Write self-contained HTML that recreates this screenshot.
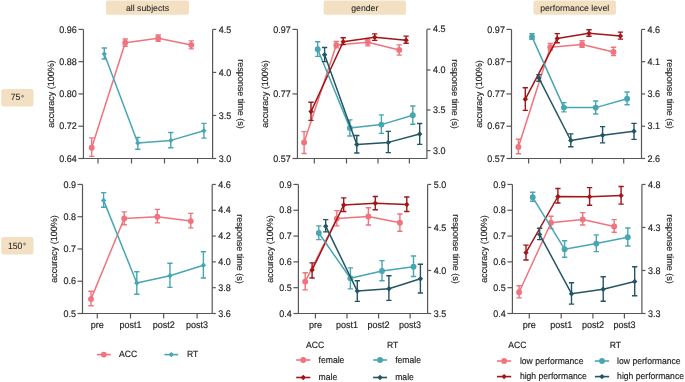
<!DOCTYPE html><html><head><meta charset="utf-8"><style>
html,body{margin:0;padding:0;background:#fff;width:685px;height:382px;overflow:hidden}
svg{display:block;will-change:transform}
text{font-family:"Liberation Sans", sans-serif;fill:#222222;text-rendering:geometricPrecision}text{stroke:#222222;stroke-width:0.15px}
</style></head><body>
<svg width="685" height="382" viewBox="0 0 685 382">
<rect x="106" y="0.5" width="83" height="14.2" rx="2" fill="#F3E0C3"/>
<text transform="matrix(1 0 0 1.0 147.5 10.9)" font-size="8.7" text-anchor="middle" style="stroke-width:0.05px">all subjects</text>
<rect x="323.6" y="0.5" width="82.3" height="14.2" rx="2" fill="#F3E0C3"/>
<text transform="matrix(1 0 0 1.0 364.75 10.9)" font-size="8.7" text-anchor="middle" style="stroke-width:0.05px">gender</text>
<rect x="533.5" y="0.5" width="82.4" height="14.2" rx="2" fill="#F3E0C3"/>
<text transform="matrix(1 0 0 1.0 574.7 10.9)" font-size="8.7" text-anchor="middle" style="stroke-width:0.05px">performance level</text>
<rect x="1.2" y="89" width="32.3" height="17.5" rx="2.5" fill="#F3E0C3"/>
<text transform="matrix(1 0 0 1.06 20.35 100.4)" font-size="8.7" text-anchor="end" style="stroke-width:0.05px">75</text>
<circle cx="22.55" cy="96.3" r="0.95" fill="none" stroke="#555" stroke-width="0.75"/>
<rect x="1.2" y="237" width="32.3" height="17.4" rx="2.5" fill="#F3E0C3"/>
<text transform="matrix(1 0 0 1.06 22.45 248.6)" font-size="8.7" text-anchor="end" style="stroke-width:0.05px">150</text>
<circle cx="24.55" cy="244" r="0.95" fill="none" stroke="#555" stroke-width="0.75"/>
<text transform="matrix(1 0 0 1.06 76.85 32.6)" font-size="9" text-anchor="end">0.96</text>
<text transform="matrix(1 0 0 1.06 76.85 64.88)" font-size="9" text-anchor="end">0.88</text>
<text transform="matrix(1 0 0 1.06 76.85 97.15)" font-size="9" text-anchor="end">0.80</text>
<text transform="matrix(1 0 0 1.06 76.85 129.42)" font-size="9" text-anchor="end">0.72</text>
<text transform="matrix(1 0 0 1.06 76.85 161.7)" font-size="9" text-anchor="end">0.64</text>
<text transform="matrix(1 0 0 1.06 218.7 32.6)" font-size="9">4.5</text>
<text transform="matrix(1 0 0 1.06 218.7 75.63)" font-size="9">4.0</text>
<text transform="matrix(1 0 0 1.06 218.7 118.67)" font-size="9">3.5</text>
<text transform="matrix(1 0 0 1.06 218.7 161.7)" font-size="9">3.0</text>
<path d="M83.45 29.4V158.5H212.6V29.4" fill="none" stroke="#575757" stroke-width="1.2"/><path d="M78.45 29.4H83.45" stroke="#575757" stroke-width="1.2"/><path d="M78.45 61.67H83.45" stroke="#575757" stroke-width="1.2"/><path d="M78.45 93.95H83.45" stroke="#575757" stroke-width="1.2"/><path d="M78.45 126.22H83.45" stroke="#575757" stroke-width="1.2"/><path d="M78.45 158.5H83.45" stroke="#575757" stroke-width="1.2"/><path d="M212.6 29.4H216.2" stroke="#575757" stroke-width="1.2"/><path d="M212.6 72.43H216.2" stroke="#575757" stroke-width="1.2"/><path d="M212.6 115.47H216.2" stroke="#575757" stroke-width="1.2"/><path d="M212.6 158.5H216.2" stroke="#575757" stroke-width="1.2"/><path d="M98 158.5V163.5" stroke="#575757" stroke-width="1.2"/><path d="M131.5 158.5V163.5" stroke="#575757" stroke-width="1.2"/><path d="M164.5 158.5V163.5" stroke="#575757" stroke-width="1.2"/><path d="M197.6 158.5V163.5" stroke="#575757" stroke-width="1.2"/>
<text transform="translate(53.95 93.95) rotate(-90)" font-size="9" text-anchor="middle">accuracy (100%)</text>
<text transform="translate(237.6 93.95) rotate(90)" font-size="9" text-anchor="middle">response time (s)</text>
<path d="M91.7 147.8L125.2 42.8L158.2 38.2L191.3 45" fill="none" stroke="#F0737D" stroke-width="1.5" stroke-linejoin="round"/><path d="M91.7 137.9V156.4M89.05 137.9H94.35M89.05 156.4H94.35" fill="none" stroke="#F0737D" stroke-width="1.4"/><circle cx="91.7" cy="147.8" r="2.95" fill="#F0737D"/><path d="M125.2 39V46.3M122.55 39H127.85M122.55 46.3H127.85" fill="none" stroke="#F0737D" stroke-width="1.4"/><circle cx="125.2" cy="42.8" r="2.95" fill="#F0737D"/><path d="M158.2 35V41.2M155.55 35H160.85M155.55 41.2H160.85" fill="none" stroke="#F0737D" stroke-width="1.4"/><circle cx="158.2" cy="38.2" r="2.95" fill="#F0737D"/><path d="M191.3 40.9V48.9M188.65 40.9H193.95M188.65 48.9H193.95" fill="none" stroke="#F0737D" stroke-width="1.4"/><circle cx="191.3" cy="45" r="2.95" fill="#F0737D"/>
<path d="M104.3 53.9L137.8 143.1L170.8 140.4L203.9 130.8" fill="none" stroke="#48A6B2" stroke-width="1.5" stroke-linejoin="round"/><path d="M104.3 48V59M101.65 48H106.95M101.65 59H106.95" fill="none" stroke="#48A6B2" stroke-width="1.4"/><path d="M104.3 51.2L107 53.9L104.3 56.6L101.6 53.9Z" fill="#48A6B2"/><path d="M137.8 137.4V149.3M135.15 137.4H140.45M135.15 149.3H140.45" fill="none" stroke="#48A6B2" stroke-width="1.4"/><path d="M137.8 140.4L140.5 143.1L137.8 145.8L135.1 143.1Z" fill="#48A6B2"/><path d="M170.8 132.5V147.7M168.15 132.5H173.45M168.15 147.7H173.45" fill="none" stroke="#48A6B2" stroke-width="1.4"/><path d="M170.8 137.7L173.5 140.4L170.8 143.1L168.1 140.4Z" fill="#48A6B2"/><path d="M203.9 123.4V138.1M201.25 123.4H206.55M201.25 138.1H206.55" fill="none" stroke="#48A6B2" stroke-width="1.4"/><path d="M203.9 128.1L206.6 130.8L203.9 133.5L201.2 130.8Z" fill="#48A6B2"/>
<text transform="matrix(1 0 0 1.06 290.85 32.6)" font-size="9" text-anchor="end">0.97</text>
<text transform="matrix(1 0 0 1.06 290.85 97.15)" font-size="9" text-anchor="end">0.77</text>
<text transform="matrix(1 0 0 1.06 290.85 161.7)" font-size="9" text-anchor="end">0.57</text>
<text transform="matrix(1 0 0 1.06 433 32.4)" font-size="9">4.5</text>
<text transform="matrix(1 0 0 1.06 433 73.2)" font-size="9">4.0</text>
<text transform="matrix(1 0 0 1.06 433 113.2)" font-size="9">3.5</text>
<text transform="matrix(1 0 0 1.06 433 153.8)" font-size="9">3.0</text>
<path d="M297.45 29.4V158.5H426.9V29.4" fill="none" stroke="#575757" stroke-width="1.2"/><path d="M292.45 29.4H297.45" stroke="#575757" stroke-width="1.2"/><path d="M292.45 93.95H297.45" stroke="#575757" stroke-width="1.2"/><path d="M292.45 158.5H297.45" stroke="#575757" stroke-width="1.2"/><path d="M426.9 29.2H430.5" stroke="#575757" stroke-width="1.2"/><path d="M426.9 70H430.5" stroke="#575757" stroke-width="1.2"/><path d="M426.9 110H430.5" stroke="#575757" stroke-width="1.2"/><path d="M426.9 150.6H430.5" stroke="#575757" stroke-width="1.2"/><path d="M314.3 158.5V163.5" stroke="#575757" stroke-width="1.2"/><path d="M346.5 158.5V163.5" stroke="#575757" stroke-width="1.2"/><path d="M378 158.5V163.5" stroke="#575757" stroke-width="1.2"/><path d="M409.4 158.5V163.5" stroke="#575757" stroke-width="1.2"/>
<text transform="translate(267.95 93.95) rotate(-90)" font-size="9" text-anchor="middle">accuracy (100%)</text>
<text transform="translate(451.9 93.95) rotate(90)" font-size="9" text-anchor="middle">response time (s)</text>
<path d="M304.1 142.5L336.3 44.9L367.8 42.3L399.2 49.9" fill="none" stroke="#F0737D" stroke-width="1.5" stroke-linejoin="round"/><path d="M304.1 131.6V153.5M301.45 131.6H306.75M301.45 153.5H306.75" fill="none" stroke="#F0737D" stroke-width="1.4"/><circle cx="304.1" cy="142.5" r="2.95" fill="#F0737D"/><path d="M336.3 41.4V47.9M333.65 41.4H338.95M333.65 47.9H338.95" fill="none" stroke="#F0737D" stroke-width="1.4"/><circle cx="336.3" cy="44.9" r="2.95" fill="#F0737D"/><path d="M367.8 39.7V45.9M365.15 39.7H370.45M365.15 45.9H370.45" fill="none" stroke="#F0737D" stroke-width="1.4"/><circle cx="367.8" cy="42.3" r="2.95" fill="#F0737D"/><path d="M399.2 44.9V55.1M396.55 44.9H401.85M396.55 55.1H401.85" fill="none" stroke="#F0737D" stroke-width="1.4"/><circle cx="399.2" cy="49.9" r="2.95" fill="#F0737D"/>
<path d="M311 111.6L343.2 41.7L374.7 37.3L406.1 40.3" fill="none" stroke="#A31516" stroke-width="1.5" stroke-linejoin="round"/><path d="M311 102.2V120.4M308.35 102.2H313.65M308.35 120.4H313.65" fill="none" stroke="#A31516" stroke-width="1.4"/><path d="M311 108.9L313.7 111.6L311 114.3L308.3 111.6Z" fill="#A31516"/><path d="M343.2 37.8V44.6M340.55 37.8H345.85M340.55 44.6H345.85" fill="none" stroke="#A31516" stroke-width="1.4"/><path d="M343.2 39L345.9 41.7L343.2 44.4L340.5 41.7Z" fill="#A31516"/><path d="M374.7 33.9V40.4M372.05 33.9H377.35M372.05 40.4H377.35" fill="none" stroke="#A31516" stroke-width="1.4"/><path d="M374.7 34.6L377.4 37.3L374.7 40L372 37.3Z" fill="#A31516"/><path d="M406.1 36.1V43.3M403.45 36.1H408.75M403.45 43.3H408.75" fill="none" stroke="#A31516" stroke-width="1.4"/><path d="M406.1 37.6L408.8 40.3L406.1 43L403.4 40.3Z" fill="#A31516"/>
<path d="M317.7 49.2L349.9 127.9L381.4 124.6L412.8 115.2" fill="none" stroke="#48A6B2" stroke-width="1.5" stroke-linejoin="round"/><path d="M317.7 41.7V56.4M315.05 41.7H320.35M315.05 56.4H320.35" fill="none" stroke="#48A6B2" stroke-width="1.4"/><circle cx="317.7" cy="49.2" r="2.95" fill="#48A6B2"/><path d="M349.9 119.9V136M347.25 119.9H352.55M347.25 136H352.55" fill="none" stroke="#48A6B2" stroke-width="1.4"/><circle cx="349.9" cy="127.9" r="2.95" fill="#48A6B2"/><path d="M381.4 114.9V133.4M378.75 114.9H384.05M378.75 133.4H384.05" fill="none" stroke="#48A6B2" stroke-width="1.4"/><circle cx="381.4" cy="124.6" r="2.95" fill="#48A6B2"/><path d="M412.8 106V124.3M410.15 106H415.45M410.15 124.3H415.45" fill="none" stroke="#48A6B2" stroke-width="1.4"/><circle cx="412.8" cy="115.2" r="2.95" fill="#48A6B2"/>
<path d="M324.6 54.7L356.8 144.6L388.3 142.4L419.7 134" fill="none" stroke="#235563" stroke-width="1.5" stroke-linejoin="round"/><path d="M324.6 47.5V61.6M321.95 47.5H327.25M321.95 61.6H327.25" fill="none" stroke="#235563" stroke-width="1.4"/><path d="M324.6 52L327.3 54.7L324.6 57.4L321.9 54.7Z" fill="#235563"/><path d="M356.8 135.5V153M354.15 135.5H359.45M354.15 153H359.45" fill="none" stroke="#235563" stroke-width="1.4"/><path d="M356.8 141.9L359.5 144.6L356.8 147.3L354.1 144.6Z" fill="#235563"/><path d="M388.3 131.4V152.6M385.65 131.4H390.95M385.65 152.6H390.95" fill="none" stroke="#235563" stroke-width="1.4"/><path d="M388.3 139.7L391 142.4L388.3 145.1L385.6 142.4Z" fill="#235563"/><path d="M419.7 123.5V144.4M417.05 123.5H422.35M417.05 144.4H422.35" fill="none" stroke="#235563" stroke-width="1.4"/><path d="M419.7 131.3L422.4 134L419.7 136.7L417 134Z" fill="#235563"/>
<text transform="matrix(1 0 0 1.06 504.9 32.6)" font-size="9" text-anchor="end">0.97</text>
<text transform="matrix(1 0 0 1.06 504.9 64.88)" font-size="9" text-anchor="end">0.87</text>
<text transform="matrix(1 0 0 1.06 504.9 97.15)" font-size="9" text-anchor="end">0.77</text>
<text transform="matrix(1 0 0 1.06 504.9 129.42)" font-size="9" text-anchor="end">0.67</text>
<text transform="matrix(1 0 0 1.06 504.9 161.7)" font-size="9" text-anchor="end">0.57</text>
<text transform="matrix(1 0 0 1.06 647.6 32.6)" font-size="9">4.6</text>
<text transform="matrix(1 0 0 1.06 647.6 64.88)" font-size="9">4.1</text>
<text transform="matrix(1 0 0 1.06 647.6 97.15)" font-size="9">3.6</text>
<text transform="matrix(1 0 0 1.06 647.6 129.42)" font-size="9">3.1</text>
<text transform="matrix(1 0 0 1.06 647.6 161.7)" font-size="9">2.6</text>
<path d="M511.5 29.4V158.5H641.5V29.4" fill="none" stroke="#575757" stroke-width="1.2"/><path d="M506.5 29.4H511.5" stroke="#575757" stroke-width="1.2"/><path d="M506.5 61.67H511.5" stroke="#575757" stroke-width="1.2"/><path d="M506.5 93.95H511.5" stroke="#575757" stroke-width="1.2"/><path d="M506.5 126.22H511.5" stroke="#575757" stroke-width="1.2"/><path d="M506.5 158.5H511.5" stroke="#575757" stroke-width="1.2"/><path d="M641.5 29.4H645.1" stroke="#575757" stroke-width="1.2"/><path d="M641.5 61.67H645.1" stroke="#575757" stroke-width="1.2"/><path d="M641.5 93.95H645.1" stroke="#575757" stroke-width="1.2"/><path d="M641.5 126.22H645.1" stroke="#575757" stroke-width="1.2"/><path d="M641.5 158.5H645.1" stroke="#575757" stroke-width="1.2"/><path d="M528.6 158.5V163.5" stroke="#575757" stroke-width="1.2"/><path d="M560.5 158.5V163.5" stroke="#575757" stroke-width="1.2"/><path d="M592.3 158.5V163.5" stroke="#575757" stroke-width="1.2"/><path d="M623.7 158.5V163.5" stroke="#575757" stroke-width="1.2"/>
<text transform="translate(482 93.95) rotate(-90)" font-size="9" text-anchor="middle">accuracy (100%)</text>
<text transform="translate(666.5 93.95) rotate(90)" font-size="9" text-anchor="middle">response time (s)</text>
<path d="M518.4 147L550.3 47.3L582.1 44.5L613.5 52" fill="none" stroke="#F0737D" stroke-width="1.5" stroke-linejoin="round"/><path d="M518.4 139.3V153.8M515.75 139.3H521.05M515.75 153.8H521.05" fill="none" stroke="#F0737D" stroke-width="1.4"/><circle cx="518.4" cy="147" r="2.95" fill="#F0737D"/><path d="M550.3 43.5V50.1M547.65 43.5H552.95M547.65 50.1H552.95" fill="none" stroke="#F0737D" stroke-width="1.4"/><circle cx="550.3" cy="47.3" r="2.95" fill="#F0737D"/><path d="M582.1 40.7V47.3M579.45 40.7H584.75M579.45 47.3H584.75" fill="none" stroke="#F0737D" stroke-width="1.4"/><circle cx="582.1" cy="44.5" r="2.95" fill="#F0737D"/><path d="M613.5 47.3V55.6M610.85 47.3H616.15M610.85 55.6H616.15" fill="none" stroke="#F0737D" stroke-width="1.4"/><circle cx="613.5" cy="52" r="2.95" fill="#F0737D"/>
<path d="M525.3 99.2L557.2 38.6L589 33.2L620.4 36" fill="none" stroke="#A31516" stroke-width="1.5" stroke-linejoin="round"/><path d="M525.3 87.8V110.4M522.65 87.8H527.95M522.65 110.4H527.95" fill="none" stroke="#A31516" stroke-width="1.4"/><path d="M525.3 96.5L528 99.2L525.3 101.9L522.6 99.2Z" fill="#A31516"/><path d="M557.2 33.6V42.7M554.55 33.6H559.85M554.55 42.7H559.85" fill="none" stroke="#A31516" stroke-width="1.4"/><path d="M557.2 35.9L559.9 38.6L557.2 41.3L554.5 38.6Z" fill="#A31516"/><path d="M589 29.7V36.3M586.35 29.7H591.65M586.35 36.3H591.65" fill="none" stroke="#A31516" stroke-width="1.4"/><path d="M589 30.5L591.7 33.2L589 35.9L586.3 33.2Z" fill="#A31516"/><path d="M620.4 32.1V39.1M617.75 32.1H623.05M617.75 39.1H623.05" fill="none" stroke="#A31516" stroke-width="1.4"/><path d="M620.4 33.3L623.1 36L620.4 38.7L617.7 36Z" fill="#A31516"/>
<path d="M532 36.9L563.9 107.6L595.7 107.6L627.1 98.8" fill="none" stroke="#48A6B2" stroke-width="1.5" stroke-linejoin="round"/><path d="M532 33.8V39.3M529.35 33.8H534.65M529.35 39.3H534.65" fill="none" stroke="#48A6B2" stroke-width="1.4"/><circle cx="532" cy="36.9" r="2.95" fill="#48A6B2"/><path d="M563.9 102.6V111.9M561.25 102.6H566.55M561.25 111.9H566.55" fill="none" stroke="#48A6B2" stroke-width="1.4"/><circle cx="563.9" cy="107.6" r="2.95" fill="#48A6B2"/><path d="M595.7 101V114M593.05 101H598.35M593.05 114H598.35" fill="none" stroke="#48A6B2" stroke-width="1.4"/><circle cx="595.7" cy="107.6" r="2.95" fill="#48A6B2"/><path d="M627.1 92V104.7M624.45 92H629.75M624.45 104.7H629.75" fill="none" stroke="#48A6B2" stroke-width="1.4"/><circle cx="627.1" cy="98.8" r="2.95" fill="#48A6B2"/>
<path d="M538.9 78.1L570.8 140.5L602.6 135.3L634 131.3" fill="none" stroke="#235563" stroke-width="1.5" stroke-linejoin="round"/><path d="M538.9 74.6V81.2M536.25 74.6H541.55M536.25 81.2H541.55" fill="none" stroke="#235563" stroke-width="1.4"/><path d="M538.9 75.4L541.6 78.1L538.9 80.8L536.2 78.1Z" fill="#235563"/><path d="M570.8 133.9V146.7M568.15 133.9H573.45M568.15 146.7H573.45" fill="none" stroke="#235563" stroke-width="1.4"/><path d="M570.8 137.8L573.5 140.5L570.8 143.2L568.1 140.5Z" fill="#235563"/><path d="M602.6 126.6V142.9M599.95 126.6H605.25M599.95 142.9H605.25" fill="none" stroke="#235563" stroke-width="1.4"/><path d="M602.6 132.6L605.3 135.3L602.6 138L599.9 135.3Z" fill="#235563"/><path d="M634 123.4V139.4M631.35 123.4H636.65M631.35 139.4H636.65" fill="none" stroke="#235563" stroke-width="1.4"/><path d="M634 128.6L636.7 131.3L634 134L631.3 131.3Z" fill="#235563"/>
<text transform="matrix(1 0 0 1.06 75.9 187.65)" font-size="9" text-anchor="end">0.9</text>
<text transform="matrix(1 0 0 1.06 75.9 219.91)" font-size="9" text-anchor="end">0.8</text>
<text transform="matrix(1 0 0 1.06 75.9 252.17)" font-size="9" text-anchor="end">0.7</text>
<text transform="matrix(1 0 0 1.06 75.9 284.44)" font-size="9" text-anchor="end">0.6</text>
<text transform="matrix(1 0 0 1.06 75.9 316.7)" font-size="9" text-anchor="end">0.5</text>
<text transform="matrix(1 0 0 1.06 218.3 187.65)" font-size="9">4.6</text>
<text transform="matrix(1 0 0 1.06 218.3 213.46)" font-size="9">4.4</text>
<text transform="matrix(1 0 0 1.06 218.3 239.27)" font-size="9">4.2</text>
<text transform="matrix(1 0 0 1.06 218.3 265.08)" font-size="9">4.0</text>
<text transform="matrix(1 0 0 1.06 218.3 290.89)" font-size="9">3.8</text>
<text transform="matrix(1 0 0 1.06 218.3 316.7)" font-size="9">3.6</text>
<path d="M82.5 184.45V313.5H212.2V184.45" fill="none" stroke="#575757" stroke-width="1.2"/><path d="M77.5 184.45H82.5" stroke="#575757" stroke-width="1.2"/><path d="M77.5 216.71H82.5" stroke="#575757" stroke-width="1.2"/><path d="M77.5 248.97H82.5" stroke="#575757" stroke-width="1.2"/><path d="M77.5 281.24H82.5" stroke="#575757" stroke-width="1.2"/><path d="M77.5 313.5H82.5" stroke="#575757" stroke-width="1.2"/><path d="M212.2 184.45H215.8" stroke="#575757" stroke-width="1.2"/><path d="M212.2 210.26H215.8" stroke="#575757" stroke-width="1.2"/><path d="M212.2 236.07H215.8" stroke="#575757" stroke-width="1.2"/><path d="M212.2 261.88H215.8" stroke="#575757" stroke-width="1.2"/><path d="M212.2 287.69H215.8" stroke="#575757" stroke-width="1.2"/><path d="M212.2 313.5H215.8" stroke="#575757" stroke-width="1.2"/><path d="M97.3 313.5V318.5" stroke="#575757" stroke-width="1.2"/><path d="M130.5 313.5V318.5" stroke="#575757" stroke-width="1.2"/><path d="M163.65 313.5V318.5" stroke="#575757" stroke-width="1.2"/><path d="M197.1 313.5V318.5" stroke="#575757" stroke-width="1.2"/>
<text transform="translate(57.2 248.97) rotate(-90)" font-size="9" text-anchor="middle">accuracy (100%)</text>
<text transform="translate(237.2 248.97) rotate(90)" font-size="9" text-anchor="middle">response time (s)</text>
<text transform="matrix(1 0 0 1.06 97.3 328.3)" font-size="9" text-anchor="middle">pre</text>
<text transform="matrix(1 0 0 1.06 130.5 328.3)" font-size="9" text-anchor="middle">post1</text>
<text transform="matrix(1 0 0 1.06 163.65 328.3)" font-size="9" text-anchor="middle">post2</text>
<text transform="matrix(1 0 0 1.06 197.1 328.3)" font-size="9" text-anchor="middle">post3</text>
<path d="M91 299.1L124.2 218.5L157.35 216.7L190.8 221.1" fill="none" stroke="#F0737D" stroke-width="1.5" stroke-linejoin="round"/><path d="M91 291.3V305.8M88.35 291.3H93.65M88.35 305.8H93.65" fill="none" stroke="#F0737D" stroke-width="1.4"/><circle cx="91" cy="299.1" r="2.95" fill="#F0737D"/><path d="M124.2 211.9V224.7M121.55 211.9H126.85M121.55 224.7H126.85" fill="none" stroke="#F0737D" stroke-width="1.4"/><circle cx="124.2" cy="218.5" r="2.95" fill="#F0737D"/><path d="M157.35 209.4V222.9M154.7 209.4H160M154.7 222.9H160" fill="none" stroke="#F0737D" stroke-width="1.4"/><circle cx="157.35" cy="216.7" r="2.95" fill="#F0737D"/><path d="M190.8 213.4V227.9M188.15 213.4H193.45M188.15 227.9H193.45" fill="none" stroke="#F0737D" stroke-width="1.4"/><circle cx="190.8" cy="221.1" r="2.95" fill="#F0737D"/>
<path d="M103.6 200.4L136.8 283L169.95 275.8L203.4 265.3" fill="none" stroke="#48A6B2" stroke-width="1.5" stroke-linejoin="round"/><path d="M103.6 192.6V207.2M100.95 192.6H106.25M100.95 207.2H106.25" fill="none" stroke="#48A6B2" stroke-width="1.4"/><path d="M103.6 197.7L106.3 200.4L103.6 203.1L100.9 200.4Z" fill="#48A6B2"/><path d="M136.8 271.8V294.2M134.15 271.8H139.45M134.15 294.2H139.45" fill="none" stroke="#48A6B2" stroke-width="1.4"/><path d="M136.8 280.3L139.5 283L136.8 285.7L134.1 283Z" fill="#48A6B2"/><path d="M169.95 263.3V287.4M167.3 263.3H172.6M167.3 287.4H172.6" fill="none" stroke="#48A6B2" stroke-width="1.4"/><path d="M169.95 273.1L172.65 275.8L169.95 278.5L167.25 275.8Z" fill="#48A6B2"/><path d="M203.4 251.7V278M200.75 251.7H206.05M200.75 278H206.05" fill="none" stroke="#48A6B2" stroke-width="1.4"/><path d="M203.4 262.6L206.1 265.3L203.4 268L200.7 265.3Z" fill="#48A6B2"/>
<text transform="matrix(1 0 0 1.06 291.8 187.65)" font-size="9" text-anchor="end">0.9</text>
<text transform="matrix(1 0 0 1.06 291.8 213.46)" font-size="9" text-anchor="end">0.8</text>
<text transform="matrix(1 0 0 1.06 291.8 239.27)" font-size="9" text-anchor="end">0.7</text>
<text transform="matrix(1 0 0 1.06 291.8 265.08)" font-size="9" text-anchor="end">0.6</text>
<text transform="matrix(1 0 0 1.06 291.8 290.89)" font-size="9" text-anchor="end">0.5</text>
<text transform="matrix(1 0 0 1.06 291.8 316.7)" font-size="9" text-anchor="end">0.4</text>
<text transform="matrix(1 0 0 1.06 433.7 187.65)" font-size="9">5.0</text>
<text transform="matrix(1 0 0 1.06 433.7 230.67)" font-size="9">4.5</text>
<text transform="matrix(1 0 0 1.06 433.7 273.68)" font-size="9">4.0</text>
<text transform="matrix(1 0 0 1.06 433.7 316.7)" font-size="9">3.5</text>
<path d="M298.4 184.45V313.5H427.6V184.45" fill="none" stroke="#575757" stroke-width="1.2"/><path d="M293.4 184.45H298.4" stroke="#575757" stroke-width="1.2"/><path d="M293.4 210.26H298.4" stroke="#575757" stroke-width="1.2"/><path d="M293.4 236.07H298.4" stroke="#575757" stroke-width="1.2"/><path d="M293.4 261.88H298.4" stroke="#575757" stroke-width="1.2"/><path d="M293.4 287.69H298.4" stroke="#575757" stroke-width="1.2"/><path d="M293.4 313.5H298.4" stroke="#575757" stroke-width="1.2"/><path d="M427.6 184.45H431.2" stroke="#575757" stroke-width="1.2"/><path d="M427.6 227.47H431.2" stroke="#575757" stroke-width="1.2"/><path d="M427.6 270.48H431.2" stroke="#575757" stroke-width="1.2"/><path d="M427.6 313.5H431.2" stroke="#575757" stroke-width="1.2"/><path d="M315.4 313.5V318.5" stroke="#575757" stroke-width="1.2"/><path d="M347 313.5V318.5" stroke="#575757" stroke-width="1.2"/><path d="M378.6 313.5V318.5" stroke="#575757" stroke-width="1.2"/><path d="M410.1 313.5V318.5" stroke="#575757" stroke-width="1.2"/>
<text transform="translate(273.1 248.97) rotate(-90)" font-size="9" text-anchor="middle">accuracy (100%)</text>
<text transform="translate(452.6 248.97) rotate(90)" font-size="9" text-anchor="middle">response time (s)</text>
<text transform="matrix(1 0 0 1.06 315.4 328.3)" font-size="9" text-anchor="middle">pre</text>
<text transform="matrix(1 0 0 1.06 347 328.3)" font-size="9" text-anchor="middle">post1</text>
<text transform="matrix(1 0 0 1.06 378.6 328.3)" font-size="9" text-anchor="middle">post2</text>
<text transform="matrix(1 0 0 1.06 410.1 328.3)" font-size="9" text-anchor="middle">post3</text>
<path d="M305.2 281.6L336.8 218.6L368.4 216.5L399.9 222.8" fill="none" stroke="#F0737D" stroke-width="1.5" stroke-linejoin="round"/><path d="M305.2 272.8V289.9M302.55 272.8H307.85M302.55 289.9H307.85" fill="none" stroke="#F0737D" stroke-width="1.4"/><circle cx="305.2" cy="281.6" r="2.95" fill="#F0737D"/><path d="M336.8 210.6V225.9M334.15 210.6H339.45M334.15 225.9H339.45" fill="none" stroke="#F0737D" stroke-width="1.4"/><circle cx="336.8" cy="218.6" r="2.95" fill="#F0737D"/><path d="M368.4 207.7V225M365.75 207.7H371.05M365.75 225H371.05" fill="none" stroke="#F0737D" stroke-width="1.4"/><circle cx="368.4" cy="216.5" r="2.95" fill="#F0737D"/><path d="M399.9 214V231.3M397.25 214H402.55M397.25 231.3H402.55" fill="none" stroke="#F0737D" stroke-width="1.4"/><circle cx="399.9" cy="222.8" r="2.95" fill="#F0737D"/>
<path d="M312.1 270L343.7 205L375.3 203.3L406.8 204.6" fill="none" stroke="#A31516" stroke-width="1.5" stroke-linejoin="round"/><path d="M312.1 262.9V278M309.45 262.9H314.75M309.45 278H314.75" fill="none" stroke="#A31516" stroke-width="1.4"/><path d="M312.1 267.3L314.8 270L312.1 272.7L309.4 270Z" fill="#A31516"/><path d="M343.7 197.9V211.5M341.05 197.9H346.35M341.05 211.5H346.35" fill="none" stroke="#A31516" stroke-width="1.4"/><path d="M343.7 202.3L346.4 205L343.7 207.7L341 205Z" fill="#A31516"/><path d="M375.3 196.5V209.8M372.65 196.5H377.95M372.65 209.8H377.95" fill="none" stroke="#A31516" stroke-width="1.4"/><path d="M375.3 200.6L378 203.3L375.3 206L372.6 203.3Z" fill="#A31516"/><path d="M406.8 197V211.5M404.15 197H409.45M404.15 211.5H409.45" fill="none" stroke="#A31516" stroke-width="1.4"/><path d="M406.8 201.9L409.5 204.6L406.8 207.3L404.1 204.6Z" fill="#A31516"/>
<path d="M318.8 233L350.4 278.3L382 271L413.5 266.7" fill="none" stroke="#48A6B2" stroke-width="1.5" stroke-linejoin="round"/><path d="M318.8 225.9V239.6M316.15 225.9H321.45M316.15 239.6H321.45" fill="none" stroke="#48A6B2" stroke-width="1.4"/><circle cx="318.8" cy="233" r="2.95" fill="#48A6B2"/><path d="M350.4 267.9V288.9M347.75 267.9H353.05M347.75 288.9H353.05" fill="none" stroke="#48A6B2" stroke-width="1.4"/><circle cx="350.4" cy="278.3" r="2.95" fill="#48A6B2"/><path d="M382 260.6V280.7M379.35 260.6H384.65M379.35 280.7H384.65" fill="none" stroke="#48A6B2" stroke-width="1.4"/><circle cx="382" cy="271" r="2.95" fill="#48A6B2"/><path d="M413.5 256V276.5M410.85 256H416.15M410.85 276.5H416.15" fill="none" stroke="#48A6B2" stroke-width="1.4"/><circle cx="413.5" cy="266.7" r="2.95" fill="#48A6B2"/>
<path d="M325.7 226.2L357.3 291.1L388.9 288.7L420.4 278.8" fill="none" stroke="#235563" stroke-width="1.5" stroke-linejoin="round"/><path d="M325.7 219.6V231.9M323.05 219.6H328.35M323.05 231.9H328.35" fill="none" stroke="#235563" stroke-width="1.4"/><path d="M325.7 223.5L328.4 226.2L325.7 228.9L323 226.2Z" fill="#235563"/><path d="M357.3 280.7V301.4M354.65 280.7H359.95M354.65 301.4H359.95" fill="none" stroke="#235563" stroke-width="1.4"/><path d="M357.3 288.4L360 291.1L357.3 293.8L354.6 291.1Z" fill="#235563"/><path d="M388.9 275.8V300.4M386.25 275.8H391.55M386.25 300.4H391.55" fill="none" stroke="#235563" stroke-width="1.4"/><path d="M388.9 286L391.6 288.7L388.9 291.4L386.2 288.7Z" fill="#235563"/><path d="M420.4 264.2V293M417.75 264.2H423.05M417.75 293H423.05" fill="none" stroke="#235563" stroke-width="1.4"/><path d="M420.4 276.1L423.1 278.8L420.4 281.5L417.7 278.8Z" fill="#235563"/>
<text transform="matrix(1 0 0 1.06 505.8 187.65)" font-size="9" text-anchor="end">0.9</text>
<text transform="matrix(1 0 0 1.06 505.8 213.46)" font-size="9" text-anchor="end">0.8</text>
<text transform="matrix(1 0 0 1.06 505.8 239.27)" font-size="9" text-anchor="end">0.7</text>
<text transform="matrix(1 0 0 1.06 505.8 265.08)" font-size="9" text-anchor="end">0.6</text>
<text transform="matrix(1 0 0 1.06 505.8 290.89)" font-size="9" text-anchor="end">0.5</text>
<text transform="matrix(1 0 0 1.06 505.8 316.7)" font-size="9" text-anchor="end">0.4</text>
<text transform="matrix(1 0 0 1.06 648 187.65)" font-size="9">4.8</text>
<text transform="matrix(1 0 0 1.06 648 230.67)" font-size="9">4.3</text>
<text transform="matrix(1 0 0 1.06 648 273.68)" font-size="9">3.8</text>
<text transform="matrix(1 0 0 1.06 648 316.7)" font-size="9">3.3</text>
<path d="M512.4 184.45V313.5H641.9V184.45" fill="none" stroke="#575757" stroke-width="1.2"/><path d="M507.4 184.45H512.4" stroke="#575757" stroke-width="1.2"/><path d="M507.4 210.26H512.4" stroke="#575757" stroke-width="1.2"/><path d="M507.4 236.07H512.4" stroke="#575757" stroke-width="1.2"/><path d="M507.4 261.88H512.4" stroke="#575757" stroke-width="1.2"/><path d="M507.4 287.69H512.4" stroke="#575757" stroke-width="1.2"/><path d="M507.4 313.5H512.4" stroke="#575757" stroke-width="1.2"/><path d="M641.9 184.45H645.5" stroke="#575757" stroke-width="1.2"/><path d="M641.9 227.47H645.5" stroke="#575757" stroke-width="1.2"/><path d="M641.9 270.48H645.5" stroke="#575757" stroke-width="1.2"/><path d="M641.9 313.5H645.5" stroke="#575757" stroke-width="1.2"/><path d="M529.3 313.5V318.5" stroke="#575757" stroke-width="1.2"/><path d="M561.2 313.5V318.5" stroke="#575757" stroke-width="1.2"/><path d="M592.9 313.5V318.5" stroke="#575757" stroke-width="1.2"/><path d="M624.4 313.5V318.5" stroke="#575757" stroke-width="1.2"/>
<text transform="translate(487.1 248.97) rotate(-90)" font-size="9" text-anchor="middle">accuracy (100%)</text>
<text transform="translate(666.9 248.97) rotate(90)" font-size="9" text-anchor="middle">response time (s)</text>
<text transform="matrix(1 0 0 1.06 529.3 328.3)" font-size="9" text-anchor="middle">pre</text>
<text transform="matrix(1 0 0 1.06 561.2 328.3)" font-size="9" text-anchor="middle">post1</text>
<text transform="matrix(1 0 0 1.06 592.9 328.3)" font-size="9" text-anchor="middle">post2</text>
<text transform="matrix(1 0 0 1.06 624.4 328.3)" font-size="9" text-anchor="middle">post3</text>
<path d="M519.1 292.2L551 222.8L582.7 219.4L614.2 226.5" fill="none" stroke="#F0737D" stroke-width="1.5" stroke-linejoin="round"/><path d="M519.1 285.7V297.9M516.45 285.7H521.75M516.45 297.9H521.75" fill="none" stroke="#F0737D" stroke-width="1.4"/><circle cx="519.1" cy="292.2" r="2.95" fill="#F0737D"/><path d="M551 216.2V228.5M548.35 216.2H553.65M548.35 228.5H553.65" fill="none" stroke="#F0737D" stroke-width="1.4"/><circle cx="551" cy="222.8" r="2.95" fill="#F0737D"/><path d="M582.7 212.6V225M580.05 212.6H585.35M580.05 225H585.35" fill="none" stroke="#F0737D" stroke-width="1.4"/><circle cx="582.7" cy="219.4" r="2.95" fill="#F0737D"/><path d="M614.2 219.6V232.3M611.55 219.6H616.85M611.55 232.3H616.85" fill="none" stroke="#F0737D" stroke-width="1.4"/><circle cx="614.2" cy="226.5" r="2.95" fill="#F0737D"/>
<path d="M526 252.6L557.9 196.5L589.6 196.8L621.1 195.6" fill="none" stroke="#A31516" stroke-width="1.5" stroke-linejoin="round"/><path d="M526 245.1V260M523.35 245.1H528.65M523.35 260H528.65" fill="none" stroke="#A31516" stroke-width="1.4"/><path d="M526 249.9L528.7 252.6L526 255.3L523.3 252.6Z" fill="#A31516"/><path d="M557.9 188.5V203M555.25 188.5H560.55M555.25 203H560.55" fill="none" stroke="#A31516" stroke-width="1.4"/><path d="M557.9 193.8L560.6 196.5L557.9 199.2L555.2 196.5Z" fill="#A31516"/><path d="M589.6 187.6V205.2M586.95 187.6H592.25M586.95 205.2H592.25" fill="none" stroke="#A31516" stroke-width="1.4"/><path d="M589.6 194.1L592.3 196.8L589.6 199.5L586.9 196.8Z" fill="#A31516"/><path d="M621.1 186.5V204.1M618.45 186.5H623.75M618.45 204.1H623.75" fill="none" stroke="#A31516" stroke-width="1.4"/><path d="M621.1 192.9L623.8 195.6L621.1 198.3L618.4 195.6Z" fill="#A31516"/>
<path d="M532.7 197.3L564.6 249.2L596.3 243.6L627.8 237.3" fill="none" stroke="#48A6B2" stroke-width="1.5" stroke-linejoin="round"/><path d="M532.7 192.3V201.3M530.05 192.3H535.35M530.05 201.3H535.35" fill="none" stroke="#48A6B2" stroke-width="1.4"/><circle cx="532.7" cy="197.3" r="2.95" fill="#48A6B2"/><path d="M564.6 240.7V257.2M561.95 240.7H567.25M561.95 257.2H567.25" fill="none" stroke="#48A6B2" stroke-width="1.4"/><circle cx="564.6" cy="249.2" r="2.95" fill="#48A6B2"/><path d="M596.3 234.9V251.6M593.65 234.9H598.95M593.65 251.6H598.95" fill="none" stroke="#48A6B2" stroke-width="1.4"/><circle cx="596.3" cy="243.6" r="2.95" fill="#48A6B2"/><path d="M627.8 228V246M625.15 228H630.45M625.15 246H630.45" fill="none" stroke="#48A6B2" stroke-width="1.4"/><circle cx="627.8" cy="237.3" r="2.95" fill="#48A6B2"/>
<path d="M539.6 234.4L571.5 293.7L603.2 289.3L634.7 281.5" fill="none" stroke="#235563" stroke-width="1.5" stroke-linejoin="round"/><path d="M539.6 228.2V239.6M536.95 228.2H542.25M536.95 239.6H542.25" fill="none" stroke="#235563" stroke-width="1.4"/><path d="M539.6 231.7L542.3 234.4L539.6 237.1L536.9 234.4Z" fill="#235563"/><path d="M571.5 282.8V304.1M568.85 282.8H574.15M568.85 304.1H574.15" fill="none" stroke="#235563" stroke-width="1.4"/><path d="M571.5 291L574.2 293.7L571.5 296.4L568.8 293.7Z" fill="#235563"/><path d="M603.2 276.7V301.2M600.55 276.7H605.85M600.55 301.2H605.85" fill="none" stroke="#235563" stroke-width="1.4"/><path d="M603.2 286.6L605.9 289.3L603.2 292L600.5 289.3Z" fill="#235563"/><path d="M634.7 266.7V295.7M632.05 266.7H637.35M632.05 295.7H637.35" fill="none" stroke="#235563" stroke-width="1.4"/><path d="M634.7 278.8L637.4 281.5L634.7 284.2L632 281.5Z" fill="#235563"/>
<path d="M96.9 354.6H110.8" stroke="#F0737D" stroke-width="1.6"/>
<circle cx="103.85" cy="354.6" r="2.95" fill="#F0737D"/>
<text transform="matrix(1 0 0 1.06 119.1 357.3)" font-size="8.6">ACC</text>
<path d="M164.4 354.6H178.2" stroke="#48A6B2" stroke-width="1.6"/>
<path d="M171.3 351.9L174 354.6L171.3 357.3L168.6 354.6Z" fill="#48A6B2"/>
<text transform="matrix(1 0 0 1.06 186.9 357.3)" font-size="8.6">RT</text>
<text transform="matrix(1 0 0 1.06 306 347.6)" font-size="8.6">ACC</text>
<text transform="matrix(1 0 0 1.06 387 347.6)" font-size="8.6">RT</text>
<path d="M296.2 360H310.3" stroke="#F0737D" stroke-width="1.6"/>
<circle cx="303.25" cy="360" r="2.95" fill="#F0737D"/>
<text transform="matrix(1 0 0 1.06 318.6 362.7)" font-size="8.6">female</text>
<path d="M296.2 377.5H310.3" stroke="#A31516" stroke-width="1.6"/>
<path d="M303.25 374.8L305.95 377.5L303.25 380.2L300.55 377.5Z" fill="#A31516"/>
<text transform="matrix(1 0 0 1.06 318.6 380.2)" font-size="8.6">male</text>
<path d="M373.1 360H387" stroke="#48A6B2" stroke-width="1.6"/>
<circle cx="380.05" cy="360" r="2.95" fill="#48A6B2"/>
<text transform="matrix(1 0 0 1.06 395.2 362.7)" font-size="8.6">female</text>
<path d="M373.1 377.5H387" stroke="#235563" stroke-width="1.6"/>
<path d="M380.05 374.8L382.75 377.5L380.05 380.2L377.35 377.5Z" fill="#235563"/>
<text transform="matrix(1 0 0 1.06 395.2 380.2)" font-size="8.6">male</text>
<text transform="matrix(1 0 0 1.06 508.2 347.7)" font-size="8.6">ACC</text>
<text transform="matrix(1 0 0 1.06 609.8 347.7)" font-size="8.6">RT</text>
<path d="M497 361H511.2" stroke="#F0737D" stroke-width="1.6"/>
<circle cx="504.1" cy="361" r="2.95" fill="#F0737D"/>
<text transform="matrix(1 0 0 1.06 519.9 363.7)" font-size="8.6">low performance</text>
<path d="M497 376.6H511.2" stroke="#A31516" stroke-width="1.6"/>
<path d="M504.1 373.9L506.8 376.6L504.1 379.3L501.4 376.6Z" fill="#A31516"/>
<text transform="matrix(1 0 0 1.06 519.9 379.3)" font-size="8.6">high performance</text>
<path d="M594.9 361H609.1" stroke="#48A6B2" stroke-width="1.6"/>
<circle cx="602" cy="361" r="2.95" fill="#48A6B2"/>
<text transform="matrix(1 0 0 1.06 617.1 363.7)" font-size="8.6">low performance</text>
<path d="M594.9 376.6H609.1" stroke="#235563" stroke-width="1.6"/>
<path d="M602 373.9L604.7 376.6L602 379.3L599.3 376.6Z" fill="#235563"/>
<text transform="matrix(1 0 0 1.06 617.1 379.3)" font-size="8.6">high performance</text>
</svg></body></html>
